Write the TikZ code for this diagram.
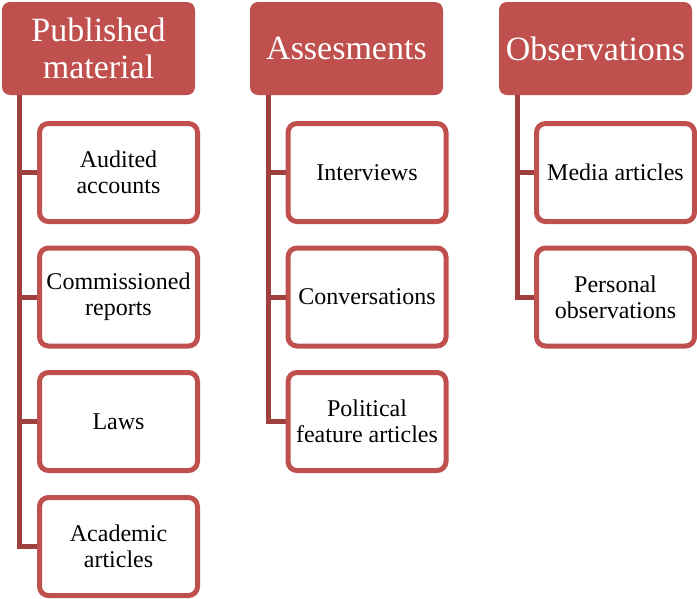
\documentclass[tikz,border=0pt]{standalone}
\usepackage{fontspec}
\setmainfont{Liberation Serif}
\usepackage{xcolor}
\definecolor{accent}{HTML}{C0504D}
\definecolor{trunk}{HTML}{A0403E}
\tikzset{
  head/.style={fill=accent, draw=none, rounded corners=8pt, minimum width=193pt,
    minimum height=93pt, text=white, align=center, inner sep=0pt,
    font=\fontsize{34}{37}\selectfont},
  item/.style={draw=accent, fill=white, line width=5pt, rounded corners=9pt,
    minimum width=158pt, minimum height=98pt, align=center, inner sep=0pt,
    font=\fontsize{24}{26}\selectfont},
  link/.style={draw=trunk, line width=5pt}
}
\begin{document}
\begin{tikzpicture}[x=1pt,y=-1pt]
\useasboundingbox (0,0) rectangle (697,598);

% Published material
\node[head] (pub) at (98.5,48.5) {Published\\material};
\coordinate (pubtop) at (19,95);
\node[item] (aud) at (118.5,172.5) {Audited\\accounts};
\node[item] (com) at (118.5,297) {Commissioned\\reports};
\node[item] (law) at (118.5,421.5) {Laws};
\node[item] (aca) at (118.5,546.5) {Academic\\articles};

% Assesments
\node[head] (ass) at (346.5,48.5) {Assesments};
\coordinate (asstop) at (268,95);
\node[item] (int) at (367,172.5) {Interviews};
\node[item] (con) at (367,297) {Conversations};
\node[item] (pol) at (367,421.5) {Political\\feature articles};

% Observations
\node[head] (obs) at (595.5,48.5) {Observations};
\coordinate (obstop) at (517,95);
\node[item] (med) at (615.5,172.5) {Media articles};
\node[item] (per) at (615.5,297) {Personal\\observations};

% connectors
\draw[link] (pubtop) |- (aud.west);
\draw[link] (pubtop) |- (com.west);
\draw[link] (pubtop) |- (law.west);
\draw[link] (pubtop) |- (aca.west);
\draw[link] (asstop) |- (int.west);
\draw[link] (asstop) |- (con.west);
\draw[link] (asstop) |- (pol.west);
\draw[link] (obstop) |- (med.west);
\draw[link] (obstop) |- (per.west);
\end{tikzpicture}
\end{document}
